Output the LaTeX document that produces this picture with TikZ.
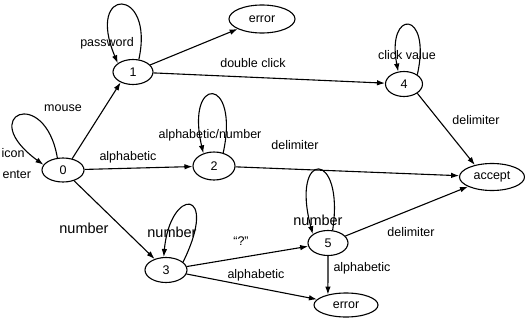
\documentclass[tikz,border=0pt]{standalone}
\usepackage{fontspec}
\setmainfont{Liberation Sans}
\usetikzlibrary{shapes.geometric,arrows.meta}

\begin{document}
\begin{tikzpicture}[x=1pt,y=-1pt,line width=1.1pt,
	state/.style={draw,ellipse,inner sep=0pt,minimum width=40pt,minimum height=25pt,font=\fontsize{12.5}{14}\selectfont},
	final/.style={state,minimum width=65pt,minimum height=27pt},
	trans/.style={-{Latex[length=8pt,width=5.5pt]}},
	lbl/.style={inner sep=0pt,font=\fontsize{12.5}{14}\selectfont},
	numlbl/.style={inner sep=0pt,font=\fontsize{14.5}{16}\selectfont}]
	\useasboundingbox (0,0) rectangle (525,324);
	% states
	\node[state,minimum width=42pt,minimum height=24pt] (n0) at (63,170) {0};
	\node[state] (n1) at (133,72) {1};
	\node[state,minimum width=42pt,minimum height=28pt] (n2) at (214,166) {2};
	\node[state,minimum width=42pt] (n3) at (166,270) {3};
	\node[state,minimum width=37pt] (n4) at (404,84) {4};
	\node[state] (n5) at (328,243) {5};
	\node[final,minimum width=66pt,minimum height=28pt] (errtop) at (262,19) {error};
	\node[final] (acc) at (492,177) {accept};
	\node[final,minimum width=64pt,minimum height=24pt] (errbot) at (346,305) {error};
	% transitions
	\draw[trans] (n0.51) -- (n1.220);
	\draw[trans] (n1) -- (errtop);
	\draw[trans] (n1) -- (n4);
	\draw[trans] (n0) -- (n2);
	\draw[trans] (n0) -- (n3);
	\draw[trans] (n2) -- (acc);
	\draw[trans] (n4.-35) -- (acc.145);
	\draw[trans] (n3) -- (n5);
	\draw[trans] (n3) -- (errbot);
	\draw[trans] (n5) -- (acc);
	\draw[trans] (n5.south) -- (errbot.150);
	% loops
	\draw[trans] (n0.115) .. controls (45,85) and (-25,115) .. (n0.165);
	\draw[trans] (n1.65) .. controls (155,-14) and (85,-14) .. (n1.150);
	\draw[trans] (n2.55) .. controls (240,75) and (185,75) .. (n2.130);
	\draw[trans] (n3.25) .. controls (220,187) and (170,187) .. (n3.100);
	\draw[trans] (n4.35) .. controls (432,9) and (386,9) .. (n4.115);
	\draw[trans] (n5.70) .. controls (345,149) and (290,149) .. (n5.150);
	% labels
	\node[lbl,anchor=west] (licon) at (1,153) {icon};
	\node[lbl,anchor=west] (lenter) at (2,175) {enter};
	\node[lbl] (lmouse) at (63,108) {mouse};
	\node[lbl] (lpass) at (107,43) {password};
	\node[lbl] (ldbl) at (253,63) {double click};
	\node[lbl] (lclick) at (407,55) {click value};
	\node[lbl] (lalpha) at (128,157) {alphabetic};
	\node[lbl] (lalnum) at (210,135) {alphabetic/number};
	\node[lbl] (ldel2) at (295,145) {delimiter};
	\node[lbl] (ldel4) at (476,120) {delimiter};
	\node[lbl] (ldel5) at (411,232) {delimiter};
	\node[numlbl] (lnum0) at (84,228) {number};
	\node[numlbl] (lnum3) at (172,232) {number};
	\node[numlbl] (lnum5) at (318,220) {number};
	\node[lbl] (lquest) at (241,241) {``?''};
	\node[lbl] (lalpha5) at (362,268) {alphabetic};
	\node[lbl] (lalpha3) at (256,275) {alphabetic};
\end{tikzpicture}
\end{document}
